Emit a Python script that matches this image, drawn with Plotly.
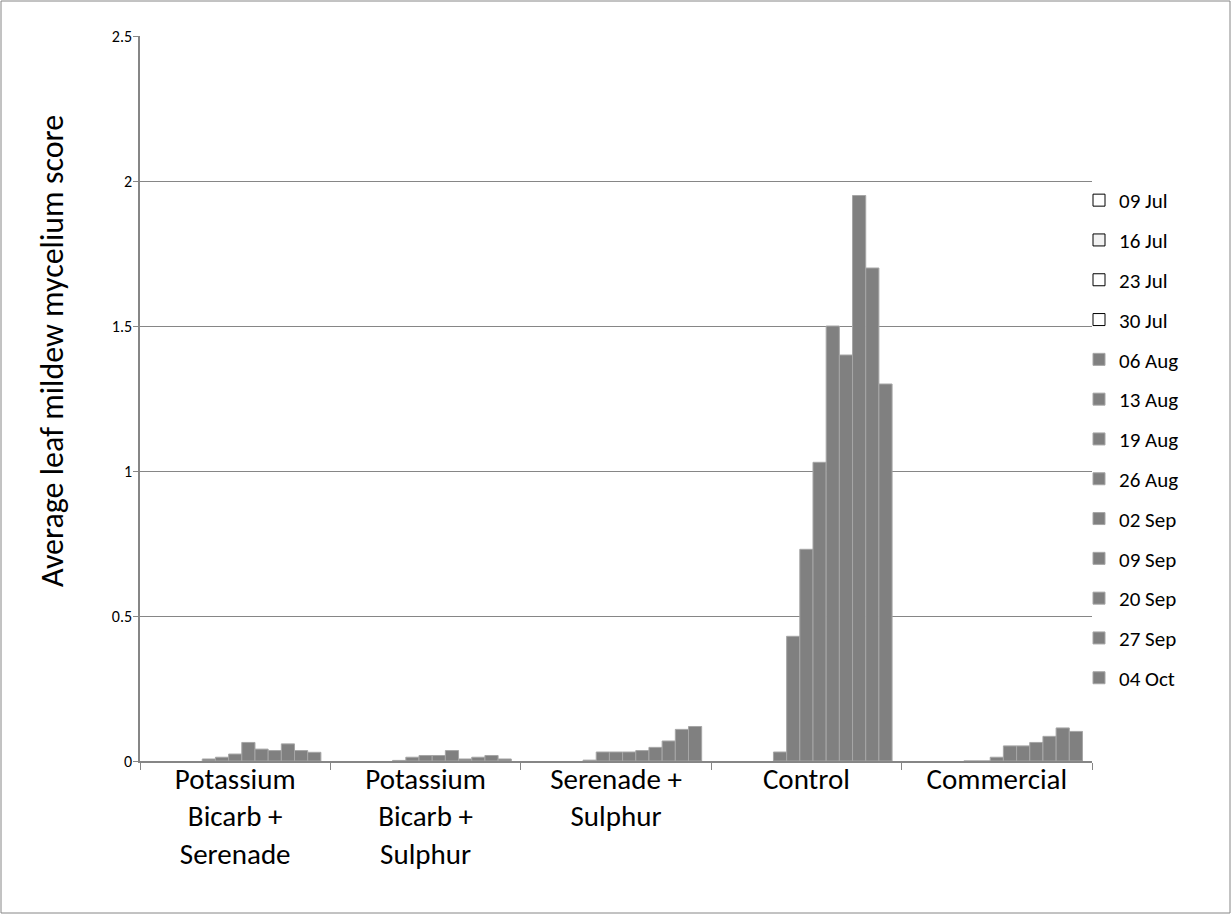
import plotly.graph_objects as go

categories = ["Potassium<br>Bicarb +<br>Serenade", "Potassium<br>Bicarb +<br>Sulphur",
              "Serenade +<br>Sulphur", "Control", "Commercial"]
dates = ["09 Jul", "16 Jul", "23 Jul", "30 Jul", "06 Aug", "13 Aug", "19 Aug",
         "26 Aug", "02 Sep", "09 Sep", "20 Sep", "27 Sep", "04 Oct"]

# values per date, one entry per treatment (same order as categories)
v_09jul = [0, 0, 0, 0, 0]
v_16jul = [0, 0, 0, 0, 0]
v_23jul = [0, 0, 0, 0, 0]
v_30jul = [0, 0, 0, 0, 0]
v_06aug = [0.007, 0.002, 0.003, 0.031, 0]
v_13aug = [0.013, 0.013, 0.031, 0.43, 0]
v_19aug = [0.024, 0.019, 0.031, 0.73, 0.013]
v_26aug = [0.064, 0.019, 0.031, 1.03, 0.052]
v_02sep = [0.041, 0.036, 0.036, 1.50, 0.052]
v_09sep = [0.036, 0.007, 0.047, 1.40, 0.064]
v_20sep = [0.059, 0.013, 0.069, 1.95, 0.085]
v_27sep = [0.036, 0.019, 0.109, 1.70, 0.114]
v_04oct = [0.030, 0.007, 0.119, 1.30, 0.102]

series = [v_09jul, v_16jul, v_23jul, v_30jul, v_06aug, v_13aug, v_19aug,
          v_26aug, v_02sep, v_09sep, v_20sep, v_27sep, v_04oct]

yticks = [0, 0.5, 1, 1.5, 2, 2.5]
ytick_text = ["0", "0.5", "1", "1.5", "2", "2.5"]
y_title = "Average leaf mildew mycelium score"

FONT = "Calibri, Carlito, Lato, sans-serif"

fig = go.Figure()
for i, (d, vals) in enumerate(zip(dates, series)):
    if i < 4:
        fill = "#f2f2f2" if i == 1 else "#ffffff"
        # legend entry (outlined square), sharing the slot of the data trace
        fig.add_trace(go.Bar(x=[categories[0]], y=[None], name=d, legendgroup=d,
                             offsetgroup=d,
                             marker=dict(color=fill, line=dict(color="#000000", width=1))))
        fig.add_trace(go.Bar(x=categories, y=vals, name=d, legendgroup=d, offsetgroup=d,
                             showlegend=False,
                             marker=dict(color=fill, line=dict(width=0))))
    else:
        fig.add_trace(go.Bar(x=categories, y=vals, name=d, legendgroup=d, offsetgroup=d,
                             marker=dict(color="#808080",
                                         line=dict(color="#a6a6a6", width=1))))

W, H = 1232, 915
L, R, T, B = 140, 140, 36, 154
pw, ph = W - L - R, H - T - B

fig.update_layout(
    width=W, height=H,
    margin=dict(l=L, r=R, t=T, b=B, pad=0),
    paper_bgcolor="white", plot_bgcolor="white",
    barmode="group", bargap=0.1, bargroupgap=0,
    font=dict(family=FONT, color="#000000"),
    legend=dict(x=(1079 - L) / pw, y=(761 - 180) / ph, xanchor="left", yanchor="top",
                font=dict(size=21, family=FONT), tracegroupgap=9.5,
                bgcolor="rgba(0,0,0,0)", itemwidth=30),
    xaxis=dict(showline=True, linecolor="#868686", linewidth=1.5,
               ticks="outside", tickson="boundaries", ticklen=7, tickcolor="#868686",
               tickfont=dict(size=29, family=FONT), showgrid=False,
               ticklabelstandoff=-9),
    yaxis=dict(range=[0, 2.5], tickvals=yticks, ticktext=ytick_text,
               showline=True, linecolor="#868686", linewidth=1.5,
               ticks="outside", ticklen=5, tickcolor="#868686",
               showgrid=True, gridcolor="#868686", gridwidth=1,
               tickfont=dict(size=16, family=FONT), zeroline=False,
               ticklabelstandoff=-2),
    annotations=[dict(text=y_title, textangle=-90, xref="paper", yref="paper",
                      x=(52 - L) / pw, y=(761 - 351) / ph, xanchor="center", yanchor="middle",
                      showarrow=False, font=dict(size=32, family=FONT))],
    shapes=[dict(type="rect", xref="paper", yref="paper",
                 x0=(1 - L) / pw, x1=(W - 2 - L) / pw,
                 y0=(761 - (H - 2)) / ph, y1=(761 - 1) / ph,
                 line=dict(color="#868686", width=1), fillcolor="rgba(0,0,0,0)", layer="below")],
)

fig.write_html("out.html", config={"displayModeBar": False},
               post_script="document.body.style.margin='0';")
